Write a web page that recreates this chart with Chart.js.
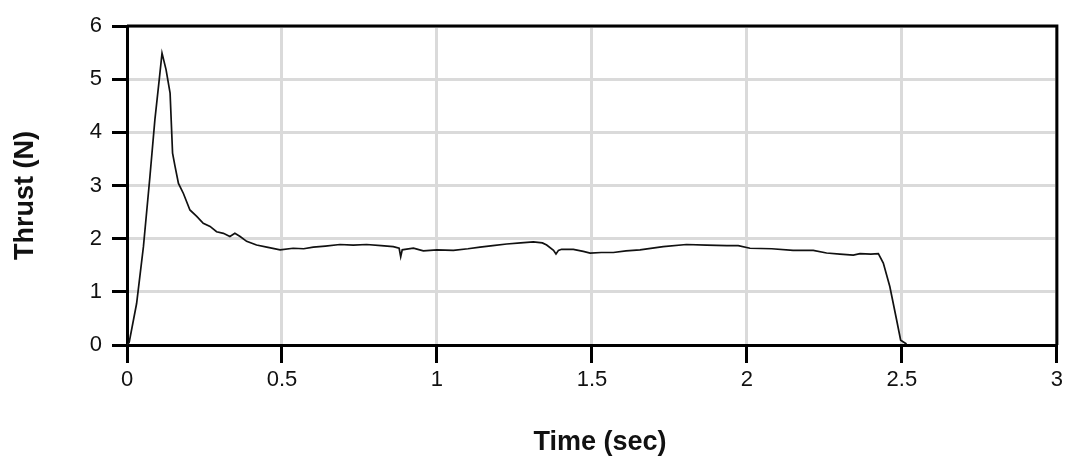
<!DOCTYPE html>
<html>
<head>
<meta charset="utf-8">
<script src="https://cdn.jsdelivr.net/npm/chart.js@4"></script>
<style>
    html, body { margin: 0; padding: 0; background: #fff; }
    #wrap { width: 1067px; height: 460px; }
</style>
</head>
<body>
<div id="wrap"><canvas id="thrust-chart" width="1067" height="460"></canvas></div>
<script>
// thrust curve
const timeSec = [
    0.000, 0.007, 0.031, 0.053, 0.074, 0.090, 0.104, 0.113, 0.126, 0.139,
    0.147, 0.155, 0.166, 0.182, 0.203, 0.225, 0.246, 0.268, 0.289, 0.311,
    0.332, 0.348, 0.365, 0.386, 0.418, 0.451, 0.494, 0.536, 0.570, 0.601,
    0.640, 0.687, 0.730, 0.773, 0.820, 0.859, 0.878, 0.883, 0.888, 0.897,
    0.924, 0.956, 1.000, 1.053, 1.100, 1.139, 1.180, 1.225, 1.270, 1.311,
    1.340, 1.354, 1.376, 1.384, 1.392, 1.402, 1.440, 1.472, 1.494, 1.530,
    1.569, 1.610, 1.655, 1.730, 1.805, 1.870, 1.935, 1.972, 2.010, 2.080,
    2.149, 2.214, 2.257, 2.300, 2.343, 2.365, 2.400, 2.424, 2.440, 2.461,
    2.483, 2.496, 2.515
];
const thrustN = [
    0.00, 0.05, 0.78, 1.85, 3.17, 4.24, 4.99, 5.49, 5.18, 4.74,
    3.61, 3.36, 3.04, 2.85, 2.54, 2.42, 2.29, 2.23, 2.13, 2.10,
    2.04, 2.10, 2.04, 1.95, 1.88, 1.84, 1.79, 1.82, 1.81, 1.84,
    1.86, 1.89, 1.88, 1.89, 1.87, 1.85, 1.82, 1.66, 1.79, 1.80,
    1.82, 1.77, 1.79, 1.78, 1.81, 1.84, 1.87, 1.90, 1.92, 1.94,
    1.92, 1.88, 1.78, 1.71, 1.78, 1.80, 1.80, 1.76, 1.73, 1.74,
    1.74, 1.77, 1.79, 1.85, 1.89, 1.88, 1.87, 1.87, 1.82, 1.81,
    1.78, 1.78, 1.73, 1.71, 1.69, 1.72, 1.71, 1.72, 1.54, 1.10,
    0.47, 0.09, 0.02
];
const xTickValues = [0, 0.5, 1, 1.5, 2, 2.5, 3];
const yTickValues = [0, 1, 2, 3, 4, 5, 6];
const xTitle = 'Time (sec)';
const yTitle = 'Thrust (N)';

const fontFamily = '"Liberation Sans", Arial, sans-serif';

// top and right edges of the plot box, plus the two axis titles
const frame = {
    id: 'frame',
    afterDraw(chart) {
        const { ctx, chartArea: a } = chart;
        ctx.save();
        ctx.strokeStyle = '#000';
        ctx.lineWidth = 3;
        ctx.beginPath();
        ctx.moveTo(a.left, a.top);
        ctx.lineTo(a.right, a.top);
        ctx.lineTo(a.right, a.bottom);
        ctx.stroke();

        ctx.fillStyle = '#111';
        ctx.font = 'bold 27px ' + fontFamily;
        ctx.textAlign = 'center';
        ctx.textBaseline = 'middle';
        ctx.fillText(xTitle, (a.left + a.right) / 2 + 8, a.bottom + 98);
        ctx.translate(26, (a.top + a.bottom) / 2 + 10);
        ctx.rotate(-Math.PI / 2);
        ctx.fillText(yTitle, 0, 0);
        ctx.restore();
    }
};

const ctx = document.getElementById('thrust-chart').getContext('2d');
new Chart(ctx, {
    type: 'line',
    data: {
        datasets: [{
            data: timeSec.map((t, i) => ({ x: t, y: thrustN[i] })),
            borderColor: '#111',
            borderWidth: 1.7,
            pointRadius: 0,
            tension: 0,
            fill: false
        }]
    },
    options: {
        responsive: false,
        animation: false,
        layout: { padding: { top: 26, right: 10, left: 0, bottom: 0 } },
        plugins: { legend: { display: false }, tooltip: { enabled: false } },
        scales: {
            x: {
                type: 'linear',
                min: 0,
                max: 3,
                afterFit: (scale) => { scale.height = 115; },
                afterBuildTicks: (scale) => { scale.ticks = xTickValues.map(v => ({ value: v })); },
                ticks: {
                    color: '#111',
                    font: { family: fontFamily, size: 22 },
                    padding: 4,
                    maxRotation: 0,
                    callback: (v) => String(v)
                },
                grid: { color: '#dadada', lineWidth: 3, tickColor: '#000', tickWidth: 3, tickLength: 18 },
                border: { color: '#000', width: 3 }
            },
            y: {
                min: 0,
                max: 6,
                afterFit: (scale) => { scale.width = 127; },
                afterBuildTicks: (scale) => { scale.ticks = yTickValues.map(v => ({ value: v })); },
                ticks: {
                    color: '#111',
                    font: { family: fontFamily, size: 22 },
                    padding: 10,
                    callback: (v) => String(v)
                },
                grid: { color: '#dadada', lineWidth: 3, tickColor: '#000', tickWidth: 3, tickLength: 15 },
                border: { color: '#000', width: 3 }
            }
        }
    },
    plugins: [frame]
});
</script>
</body>
</html>
